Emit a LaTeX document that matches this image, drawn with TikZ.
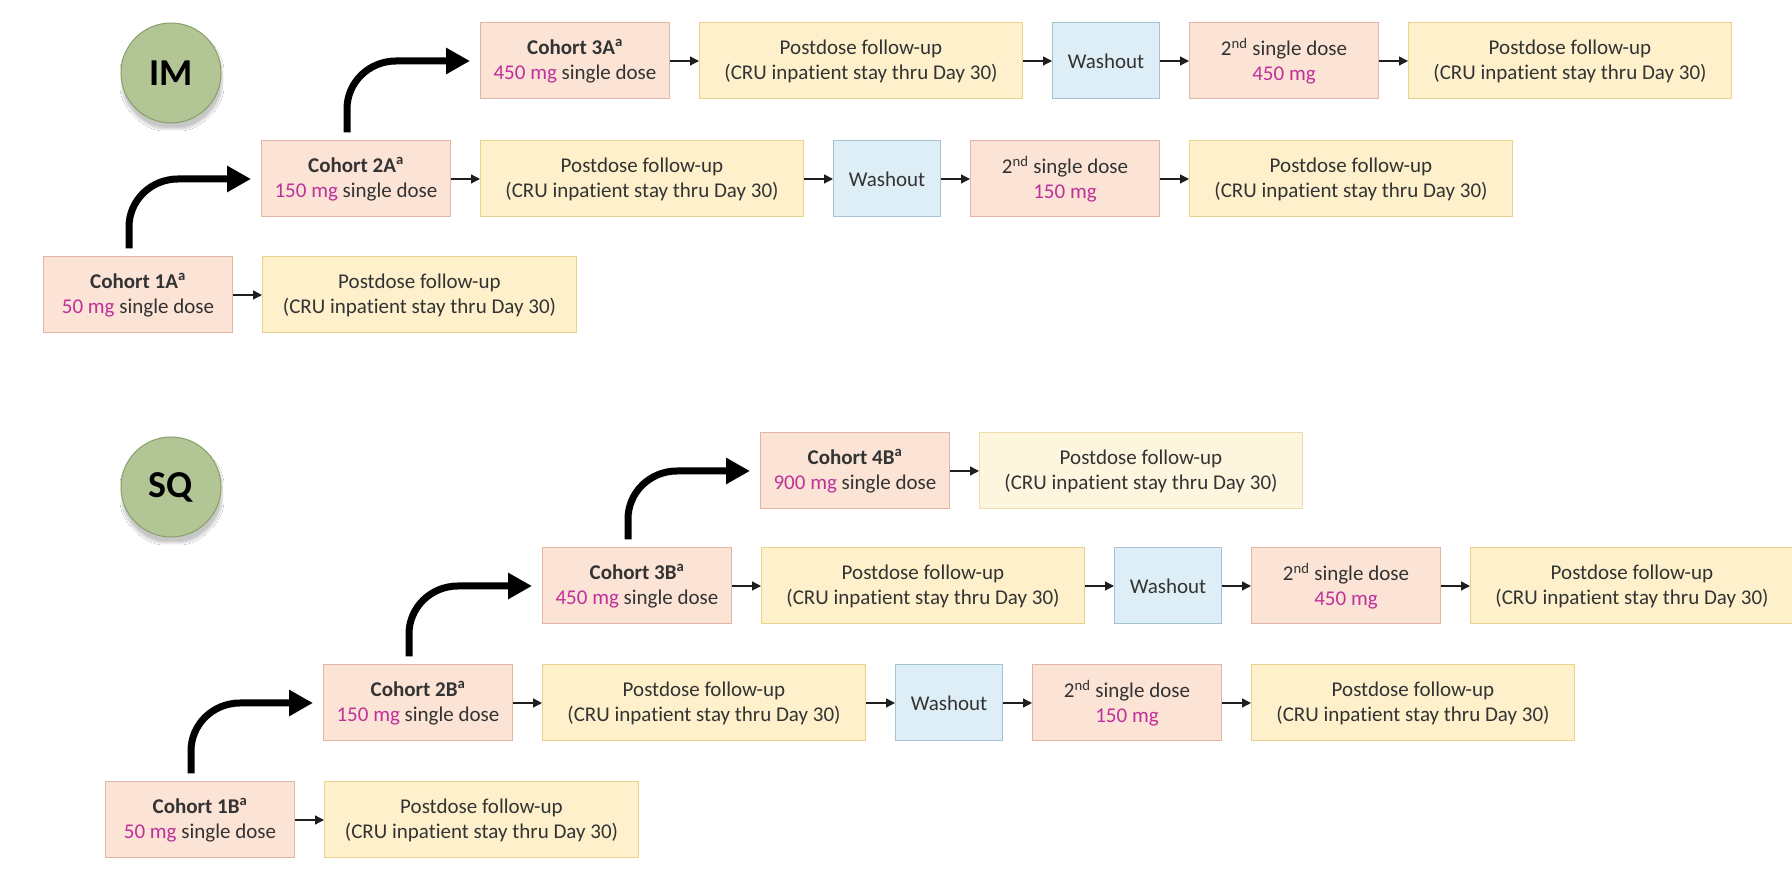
\documentclass[tikz,border=0pt]{standalone}
\usepackage{fontspec}
\setmainfont{Carlito}[Ligatures=NoCommon]
\usetikzlibrary{arrows.meta,positioning,calc,shadows.blur}
\definecolor{cfill}{HTML}{FBE3D5}
\definecolor{cdraw}{HTML}{E2B6A2}
\definecolor{pfill}{HTML}{FDF0CB}
\definecolor{pdraw}{HTML}{E8D28E}
\definecolor{plfill}{HTML}{FDF5DD}
\definecolor{pldraw}{HTML}{EEDDA8}
\definecolor{wfill}{HTML}{DEEEF6}
\definecolor{wdraw}{HTML}{A6C3D3}
\definecolor{gfill}{HTML}{B2C595}
\definecolor{gdraw}{HTML}{8A9E6A}
\definecolor{mag}{HTML}{C0309A}
\definecolor{txt}{HTML}{333333}
\definecolor{arr}{HTML}{1E1E1E}
\tikzset{
  box/.style={draw, line width=1pt, minimum height=76pt, inner sep=0pt, align=center,
    font=\fontsize{21}{25}\selectfont, text=txt},
  cohort/.style={box, fill=cfill, draw=cdraw, minimum width=189pt},
  post/.style={box, fill=pfill, draw=pdraw, minimum width=323pt},
  postone/.style={post, minimum width=314pt},
  postlight/.style={post, fill=plfill, draw=pldraw},
  wash/.style={box, fill=wfill, draw=wdraw, minimum width=107pt},
  link/.style={-{Triangle[length=9pt,width=9pt]}, line width=1.3pt, draw=arr},
  big/.style={-{Triangle[length=24pt,width=25pt]}, line width=7pt, draw=black},
  route/.style={circle, minimum size=100pt, inner sep=0pt, fill=gfill, draw=gdraw, line width=1pt,
    font=\fontsize{38}{38}\selectfont\bfseries, text=black,
    blur shadow={shadow xshift=1pt, shadow yshift=-6pt, shadow opacity=22, shadow blur steps=14, shadow blur extra rounding=8pt}},
  node distance=29pt
}
\newcommand{\coh}[2]{\textbf{Cohort #1\textsuperscript{a}}\\\textcolor{mag}{#2 mg} single dose}
\newcommand{\secdose}[1]{2\textsuperscript{nd} single dose\\\textcolor{mag}{#1 mg}}
\newcommand{\fol}{Postdose follow-up\\(CRU inpatient stay thru Day 30)}
\begin{document}
\begin{tikzpicture}[x=1pt,y=1pt]
\fill[white] (0,0) rectangle (1792,894);
\useasboundingbox (0,0) rectangle (1792,894);

% IM
\node[route] (im) at (171,821) {IM};
\node[cohort, anchor=west] (c1a) at (43,599) {\coh{1A}{50}};
\node[postone, right=of c1a] (p1a) {\fol};

\node[cohort, anchor=west] (c2a) at (261,715) {\coh{2A}{150}};
\node[post, right=of c2a] (p2a) {\fol};
\node[wash, right=of p2a] (w2a) {Washout};
\node[cohort, right=of w2a] (d2a) {\secdose{150}};
\node[post, right=of d2a] (q2a) {\fol};

\node[cohort, anchor=west] (c3a) at (480,833) {\coh{3A}{450}};
\node[post, right=of c3a] (p3a) {\fol};
\node[wash, right=of p3a] (w3a) {Washout};
\node[cohort, right=of w3a] (d3a) {\secdose{450}};
\node[post, right=of d3a] (q3a) {\fol};

% SQ
\node[route] (sq) at (171,407) {SQ};
\node[cohort, anchor=west] (c1b) at (105,74) {\coh{1B}{50}};
\node[postone, right=of c1b] (p1b) {\fol};

\node[cohort, anchor=west] (c2b) at (323,191) {\coh{2B}{150}};
\node[post, right=of c2b] (p2b) {\fol};
\node[wash, right=of p2b] (w2b) {Washout};
\node[cohort, right=of w2b] (d2b) {\secdose{150}};
\node[post, right=of d2b] (q2b) {\fol};

\node[cohort, anchor=west] (c3b) at (542,308) {\coh{3B}{450}};
\node[post, right=of c3b] (p3b) {\fol};
\node[wash, right=of p3b] (w3b) {Washout};
\node[cohort, right=of w3b] (d3b) {\secdose{450}};
\node[post, right=of d3b] (q3b) {\fol};

\node[cohort, anchor=west] (c4b) at (760,423) {\coh{4B}{900}};
\node[postlight, right=of c4b] (p4b) {\fol};

% small links
\foreach \a/\b in {c1a/p1a, c2a/p2a, p2a/w2a, w2a/d2a, d2a/q2a,
                   c3a/p3a, p3a/w3a, w3a/d3a, d3a/q3a,
                   c1b/p1b, c2b/p2b, p2b/w2b, w2b/d2b, d2b/q2b,
                   c3b/p3b, p3b/w3b, w3b/d3b, d3b/q3b, c4b/p4b}
  \draw[link] (\a.east) -- (\b.west);

% escalation arrows
\foreach \a/\b in {c1a/c2a, c2a/c3a, c1b/c2b, c2b/c3b, c3b/c4b}
  \draw[big] ([xshift=-9pt,yshift=8pt]\a.north)
    -- ($(\a.north |- \b.west)+(-9pt,-48pt)$)
    to[out=90,in=180] ($(\a.north |- \b.west)+(40pt,0)$)
    -- ([xshift=-10pt]\b.west);
\end{tikzpicture}
\end{document}
